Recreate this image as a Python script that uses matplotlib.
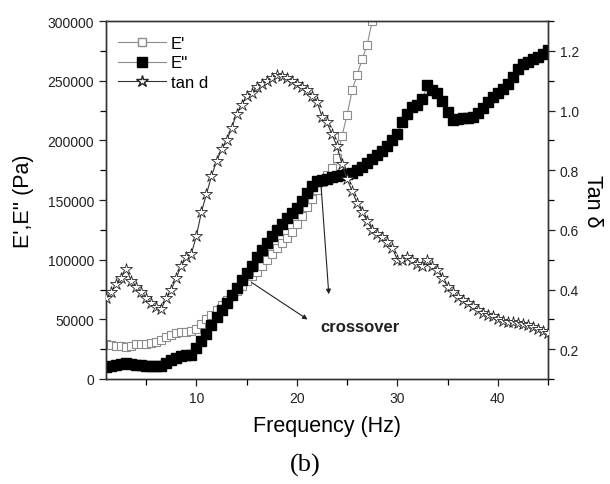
import matplotlib
matplotlib.use("Agg")
import matplotlib.pyplot as plt
from matplotlib.lines import Line2D
from matplotlib.ticker import MultipleLocator

plt.rcParams["font.family"] = ["Liberation Sans", "DejaVu Sans"]

# frequency grid (Hz)
freq = [1.0, 1.5, 2.0, 2.5, 3.0, 3.5, 4.0, 4.5, 5.0, 5.5, 6.0, 6.5, 7.0, 7.5,
        8.0, 8.5, 9.0, 9.5, 10.0, 10.5, 11.0, 11.5, 12.0, 12.5, 13.0, 13.5,
        14.0, 14.5, 15.0, 15.5, 16.0, 16.5, 17.0, 17.5, 18.0, 18.5, 19.0, 19.5,
        20.0, 20.5, 21.0, 21.5, 22.0, 22.5, 23.0, 23.5, 24.0, 24.5, 25.0, 25.5,
        26.0, 26.5, 27.0, 27.5, 28.0, 28.5, 29.0, 29.5, 30.0, 30.5, 31.0, 31.5,
        32.0, 32.5, 33.0, 33.5, 34.0, 34.5, 35.0, 35.5, 36.0, 36.5, 37.0, 37.5,
        38.0, 38.5, 39.0, 39.5, 40.0, 40.5, 41.0, 41.5, 42.0, 42.5, 43.0, 43.5,
        44.0, 44.5, 45.0]

# storage modulus E' (Pa) - leaves the frame at ~27.5 Hz
e_storage = [29000, 28500, 28000, 27500, 27000, 28000, 29000, 29500, 29500,
             30000, 31000, 33000, 35000, 37000, 38500, 39000, 39000, 40000,
             42000, 46000, 50000, 54000, 58000, 62000, 66000, 70000, 74000,
             78000, 82000, 86000, 90000, 95000, 100000, 105000, 110000, 114000,
             118000, 123000, 130000, 137000, 144000, 151000, 158000, 165000,
             171000, 177000, 185000, 204000, 221000, 242000, 255000, 268000,
             280000, 300000]

# loss modulus E'' (Pa)
e_loss = [10000, 11000, 12000, 12500, 13000, 12500, 12000, 11500, 11000, 10500,
          10500, 11000, 13000, 16000, 18000, 19500, 20000, 20500, 26000, 32000,
          38000, 45000, 52000, 58000, 64000, 70000, 76000, 83000, 89000, 95000,
          102000, 108000, 114000, 120000, 125000, 130000, 135000, 139000,
          143000, 149000, 156000, 162000, 166000, 167000, 168000, 169000,
          170000, 171000, 172000, 173000, 175000, 178000, 181000, 184000,
          188000, 191000, 195000, 200000, 205000, 215000, 222000, 228000,
          230000, 235000, 246000, 242000, 240000, 233000, 224000, 217000,
          218000, 219000, 219000, 220000, 223000, 227000, 232000, 236000,
          240000, 243000, 247000, 253000, 260000, 264000, 266000, 268000,
          270000, 272000, 276000]

# loss factor tan delta
tan_d = [0.37, 0.39, 0.42, 0.44, 0.47, 0.43, 0.41, 0.39, 0.37, 0.355, 0.34,
         0.335, 0.37, 0.40, 0.44, 0.48, 0.51, 0.52, 0.58, 0.66, 0.72, 0.78,
         0.83, 0.87, 0.90, 0.94, 0.99, 1.02, 1.05, 1.06, 1.08, 1.09, 1.10,
         1.11, 1.12, 1.115, 1.11, 1.10, 1.09, 1.08, 1.07, 1.05, 1.03, 0.98,
         0.96, 0.92, 0.88, 0.82, 0.77, 0.73, 0.69, 0.66, 0.63, 0.60, 0.585,
         0.575, 0.56, 0.54, 0.50, 0.50, 0.51, 0.50, 0.485, 0.48, 0.50, 0.48,
         0.465, 0.44, 0.41, 0.39, 0.375, 0.365, 0.355, 0.345, 0.33, 0.32,
         0.315, 0.31, 0.30, 0.295, 0.292, 0.29, 0.287, 0.283, 0.28, 0.275,
         0.268, 0.26, 0.255]

GREY = "#8c8c8c"

fig = plt.figure(figsize=(6.1, 4.85), dpi=100)
ax = fig.add_axes([0.1738, 0.2165, 0.7245, 0.738])
ax2 = ax.twinx()

ax.plot(freq[:len(e_storage)], e_storage, color=GREY, lw=0.8, marker="s",
        ms=5.5, mfc="white", mec=GREY, mew=0.8, zorder=2)
ax.plot(freq, e_loss, color=GREY, lw=0.8, marker="s", ms=6.5,
        mfc="black", mec="black", zorder=3)
ax2.plot(freq, tan_d, color="#333333", lw=0.8, marker="*", ms=9,
         mfc="white", mec="#222222", mew=0.6, zorder=4)

ax.set_xlim(1, 45)
ax.set_ylim(0, 300000)
ax2.set_ylim(0.1, 1.3)

ax.xaxis.set_major_locator(MultipleLocator(10))
ax.xaxis.set_minor_locator(MultipleLocator(5))
ax.yaxis.set_major_locator(MultipleLocator(50000))
ax.yaxis.set_minor_locator(MultipleLocator(25000))
ax2.yaxis.set_major_locator(MultipleLocator(0.2))
ax2.yaxis.set_minor_locator(MultipleLocator(0.1))
ax2.yaxis.set_major_formatter(matplotlib.ticker.FormatStrFormatter("%.1f"))

for a in (ax, ax2):
    a.tick_params(which="major", direction="out", length=5, width=0.9,
                  labelsize=10, colors="#222222")
    a.tick_params(which="minor", direction="out", length=4, width=0.9)
    for s in a.spines.values():
        s.set_linewidth(1.0)
        s.set_color("#333333")
ax.tick_params(top=False, which="both")
ax.xaxis.set_tick_params(pad=4)

ax.set_xlabel("Frequency (Hz)", fontsize=15.5, labelpad=7)
ax.set_ylabel("E',E'' (Pa)", fontsize=15.5, labelpad=10)
ax2.set_ylabel("Tan δ", fontsize=15.5, rotation=-90, labelpad=17)

# crossover annotation
ax.annotate("", xy=(21.3, 48600), xytext=(15.3, 82000),
            arrowprops=dict(arrowstyle="-|>", color="#222222", lw=0.8,
                            mutation_scale=7))
ax.annotate("", xy=(23.2, 68700), xytext=(22.4, 163000),
            arrowprops=dict(arrowstyle="-|>", color="#222222", lw=0.8,
                            mutation_scale=7))
ax.text(22.3, 44400, "crossover", fontsize=12, fontweight="bold",
        ha="left", va="center", color="#222222")

handles = [
    Line2D([0], [0], color=GREY, lw=0.8, marker="s", ms=5.5, mfc="white",
           mec=GREY, label="E'"),
    Line2D([0], [0], color=GREY, lw=0.8, marker="s", ms=6.5, mfc="black",
           mec="black", label="E''"),
    Line2D([0], [0], color="#333333", lw=0.8, marker="*", ms=9, mfc="white",
           mec="#222222", label="tan d"),
]
ax2.legend(handles=handles, loc="upper left", bbox_to_anchor=(0.0, 0.99),
           frameon=False, fontsize=12, handlelength=2.9, labelspacing=0.25,
           handletextpad=0.3, borderaxespad=0.3)

fig.text(0.5, 0.04, "(b)", fontsize=19, family="Liberation Serif",
         ha="center", va="center")

fig.savefig("out.png", dpi=100)
